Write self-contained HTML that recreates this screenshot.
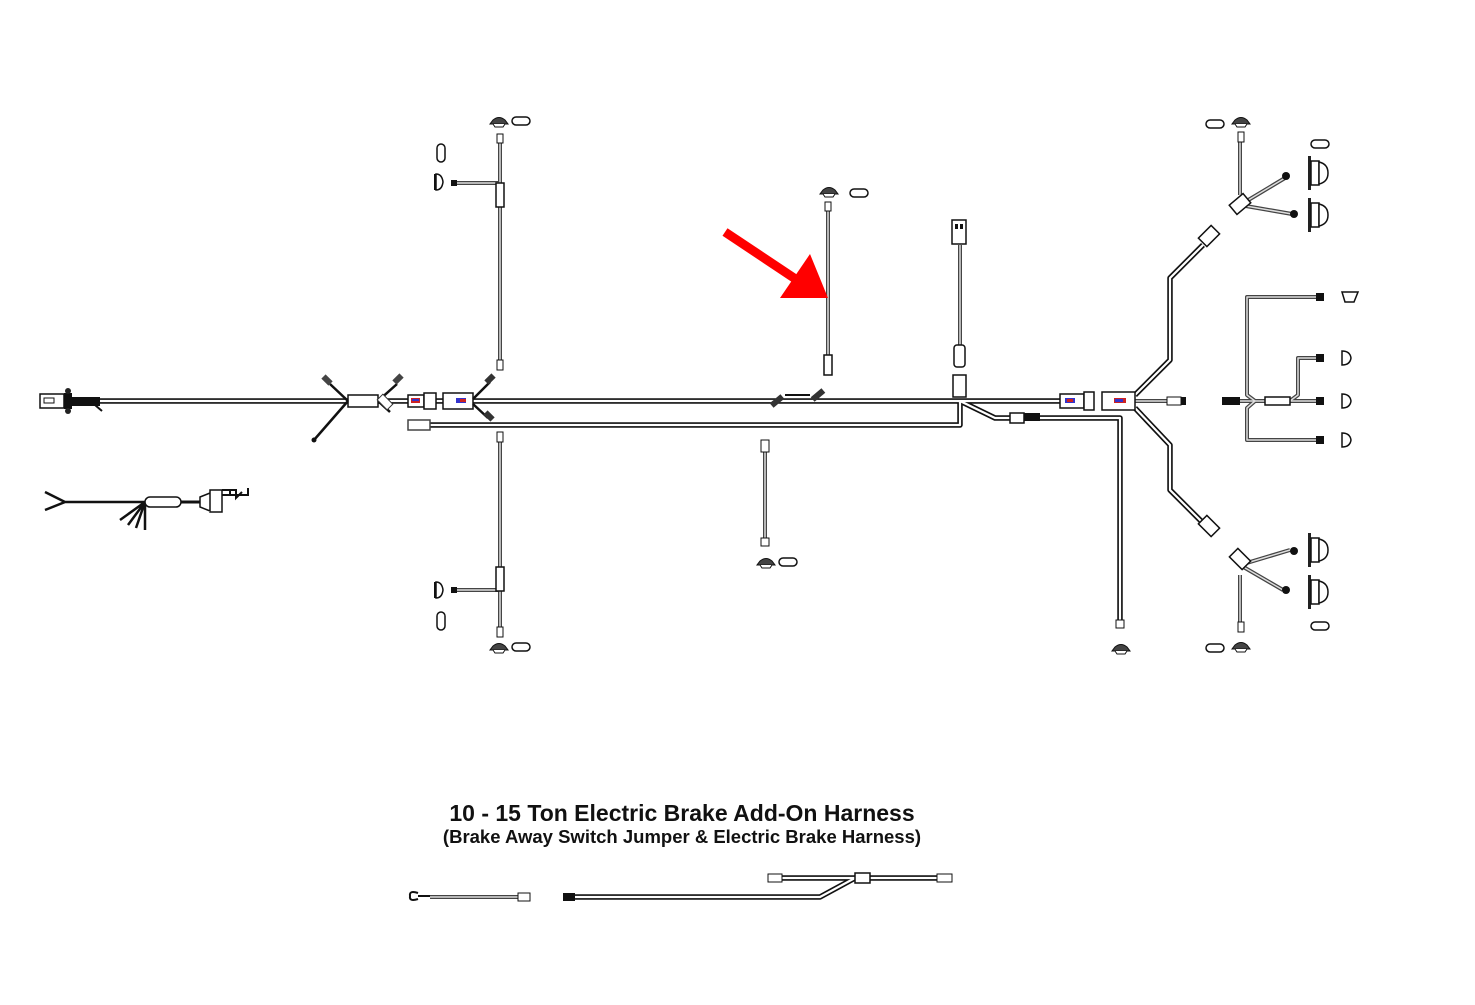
<!DOCTYPE html>
<html><head><meta charset="utf-8"><style>
html,body{margin:0;padding:0;background:#fff;}
svg{display:block;}
text{font-family:"Liberation Sans",sans-serif;font-weight:bold;fill:#111;}
</style></head><body>
<svg width="1475" height="1005" viewBox="0 0 1475 1005" xmlns="http://www.w3.org/2000/svg">
<defs>
<g id="w1" fill="none" stroke-linejoin="round">
 <path d="M95 401 H1060"/>
 <path d="M430 425 H960 V401"/>
 <path d="M960 401 L995 418 H1010"/>
 <path d="M1035 418 H1120 V622"/>
 <path d="M1135 395 L1170 360 V278 L1203 245"/>
 <path d="M1135 408 L1170 445 V490 L1203 523"/>
 <path d="M565 897 H820 L855 878 H950"/>
 <path d="M775 878 H855"/>
</g>
<g id="w2" fill="none" stroke-linejoin="round">
 <path d="M500 140 V365"/><path d="M500 440 V630"/>
 <path d="M455 183 H500"/><path d="M455 590 H500"/>
 <path d="M828 210 V355"/>
 <path d="M960 245 V345"/>
 <path d="M765 450 V540"/>
 <path d="M1135 401 H1170"/>
 <path d="M1240 140 V195"/><path d="M1240 575 V625"/>
 <path d="M1240 205 L1285 178"/><path d="M1240 205 L1292 214"/>
 <path d="M1240 565 L1290 550"/><path d="M1240 565 L1283 590"/>
 <path d="M1240 401 H1265 M1290 401 H1318"/>
 <path d="M1255 401 L1247 395 V297 H1318"/>
 <path d="M1255 401 L1247 408 V440 H1318"/>
 <path d="M1290 401 L1298 395 V358 H1318"/>
 <path d="M430 897 H525"/>
</g>
<g id="lamp"><rect x="0" y="0" width="3" height="34" fill="#222"/><rect x="3" y="5" width="8" height="24" fill="#fff" stroke="#111" stroke-width="1.5"/><path d="M11 6 Q20 8 20 17 Q20 26 11 28 Z" fill="#fff" stroke="#111" stroke-width="1.5"/></g>
<g id="grom"><path d="M0 8 H18 L15 4 Q9 -1 3 4 Z" fill="#444" stroke="#111"/><path d="M3 8 L5 11 H13 L15 8" fill="#fff" stroke="#111"/></g>
<g id="oval"><rect x="0" y="0" width="18" height="8" rx="4" fill="#fff" stroke="#111" stroke-width="1.5"/></g>
</defs>

<use href="#w1" stroke="#111" stroke-width="5.5"/>
<use href="#w1" stroke="#fff" stroke-width="2.2"/>
<use href="#w2" stroke="#444" stroke-width="4"/>
<use href="#w2" stroke="#ddd" stroke-width="1.5"/>

<!-- left plug -->
<rect x="40" y="394" width="24" height="14" fill="#fff" stroke="#111" stroke-width="1.5"/>
<rect x="44" y="398" width="10" height="5" fill="#fff" stroke="#111"/>
<rect x="64" y="393" width="8" height="16" fill="#111"/>
<circle cx="68" cy="391" r="3" fill="#222"/><circle cx="68" cy="411" r="3" fill="#222"/>
<rect x="72" y="397" width="28" height="9" fill="#111"/>
<path d="M95 405 L102 411" stroke="#111" stroke-width="2"/>
<!-- junction box left -->
<rect x="348" y="395" width="30" height="12" fill="#fff" stroke="#111" stroke-width="1.5"/>
<path d="M348 401 L330 384 M348 401 L314 440 M378 401 L397 384 M378 401 L390 412" stroke="#111" stroke-width="2.5"/>
<rect x="322" y="377" width="10" height="6" fill="#444" transform="rotate(45 327 380)"/>
<rect x="393" y="376" width="10" height="6" fill="#444" transform="rotate(-45 398 379)"/>
<rect x="378" y="398" width="14" height="8" fill="#fff" stroke="#333" transform="rotate(45 385 402)"/>
<circle cx="314" cy="440" r="2.5" fill="#111"/>
<!-- connectors mid-left -->
<rect x="408" y="395" width="16" height="12" fill="#fff" stroke="#111" stroke-width="1.5"/>
<rect x="411" y="398" width="9" height="5" fill="#c22"/><rect x="412" y="399" width="7" height="2" fill="#33c"/>
<rect x="424" y="393" width="12" height="16" fill="#fff" stroke="#111" stroke-width="1.5"/>
<rect x="443" y="393" width="30" height="16" fill="#fff" stroke="#111" stroke-width="1.5"/>
<rect x="456" y="398" width="10" height="5" fill="#33c"/><rect x="460" y="399" width="6" height="3" fill="#c22"/>
<path d="M473 399 L490 382 M473 404 L488 418" stroke="#111" stroke-width="2.5"/>
<rect x="485" y="376" width="10" height="6" fill="#333" transform="rotate(-45 490 379)"/>
<rect x="484" y="413" width="10" height="6" fill="#333" transform="rotate(45 489 416)"/>
<rect x="408" y="420" width="22" height="10" fill="#fff" stroke="#444" stroke-width="1.5"/>
<!-- left vertical -->
<use href="#grom" x="490" y="116"/><use href="#oval" x="512" y="117"/>
<rect x="497" y="134" width="6" height="9" fill="#fff" stroke="#111"/>
<rect x="496" y="183" width="8" height="24" fill="#fff" stroke="#111" stroke-width="1.5"/>
<rect x="437" y="144" width="8" height="18" rx="4" fill="#fff" stroke="#111" stroke-width="1.5"/>
<path d="M436 174 V190 Q442 190 443 182 Q442 174 436 174Z" fill="#fff" stroke="#111" stroke-width="1.5"/><rect x="434" y="174" width="2" height="16" fill="#111"/>
<rect x="451" y="180" width="6" height="6" fill="#111"/>
<rect x="497" y="360" width="6" height="10" fill="#fff" stroke="#111"/>
<rect x="497" y="432" width="6" height="10" fill="#fff" stroke="#111"/>
<rect x="496" y="567" width="8" height="24" fill="#fff" stroke="#111" stroke-width="1.5"/>
<path d="M436 582 V598 Q442 598 443 590 Q442 582 436 582Z" fill="#fff" stroke="#111" stroke-width="1.5"/><rect x="434" y="582" width="2" height="16" fill="#111"/>
<rect x="451" y="587" width="6" height="6" fill="#111"/>
<rect x="437" y="612" width="8" height="18" rx="4" fill="#fff" stroke="#111" stroke-width="1.5"/>
<rect x="497" y="627" width="6" height="10" fill="#fff" stroke="#111"/>
<use href="#grom" x="490" y="642"/><use href="#oval" x="512" y="643"/>
<!-- middle -->
<use href="#grom" x="820" y="186"/><use href="#oval" x="850" y="189"/>
<rect x="825" y="202" width="6" height="9" fill="#fff" stroke="#111"/>
<rect x="824" y="355" width="8" height="20" fill="#fff" stroke="#111" stroke-width="1.5"/>
<rect x="770" y="398" width="14" height="6" fill="#333" transform="rotate(-40 777 401)"/>
<rect x="811" y="392" width="14" height="6" fill="#333" transform="rotate(-40 818 395)"/>
<path d="M785 395 L810 395" stroke="#111" stroke-width="2"/>
<rect x="761" y="440" width="8" height="12" fill="#fff" stroke="#111"/>
<rect x="761" y="538" width="8" height="8" fill="#fff" stroke="#111"/>
<use href="#grom" x="757" y="557"/><use href="#oval" x="779" y="558"/>
<!-- vertical 960 -->
<rect x="952" y="220" width="14" height="24" fill="#fff" stroke="#111" stroke-width="1.5"/>
<rect x="955" y="224" width="3" height="5" fill="#111"/><rect x="960" y="224" width="3" height="5" fill="#111"/>
<rect x="954" y="345" width="11" height="22" rx="3" fill="#fff" stroke="#111" stroke-width="1.5"/>
<rect x="953" y="375" width="13" height="22" fill="#fff" stroke="#111" stroke-width="1.5"/>
<rect x="1010" y="413" width="14" height="10" fill="#fff" stroke="#111" stroke-width="1.5"/>
<rect x="1024" y="413" width="16" height="8" fill="#111"/>
<rect x="1060" y="394" width="24" height="14" fill="#fff" stroke="#111" stroke-width="1.5"/>
<rect x="1065" y="398" width="10" height="5" fill="#33c"/><rect x="1067" y="399" width="6" height="3" fill="#c22"/>
<rect x="1084" y="392" width="10" height="18" fill="#fff" stroke="#111" stroke-width="1.5"/>
<rect x="1102" y="392" width="33" height="18" fill="#fff" stroke="#111" stroke-width="1.5"/>
<rect x="1114" y="398" width="12" height="5" fill="#c22"/><rect x="1115" y="399" width="8" height="3" fill="#33c"/>
<rect x="1167" y="397" width="14" height="8" fill="#fff" stroke="#111"/><rect x="1181" y="397" width="5" height="8" fill="#111"/>
<rect x="1116" y="620" width="8" height="8" fill="#fff" stroke="#111"/>
<use href="#grom" x="1112" y="643"/>
<!-- right top -->
<use href="#oval" x="1206" y="120"/><use href="#grom" x="1232" y="116"/>
<rect x="1238" y="132" width="6" height="10" fill="#fff" stroke="#111"/>
<rect x="1231" y="198" width="18" height="12" fill="#fff" stroke="#111" stroke-width="1.5" transform="rotate(-40 1240 204)"/>
<circle cx="1286" cy="176" r="4" fill="#111"/><circle cx="1294" cy="214" r="4" fill="#111"/>
<rect x="1200" y="230" width="18" height="12" fill="#fff" stroke="#111" stroke-width="1.5" transform="rotate(-45 1209 236)"/>
<use href="#oval" x="1311" y="140"/>
<use href="#lamp" x="1308" y="156"/><use href="#lamp" x="1308" y="198"/>
<!-- right mid -->
<rect x="1222" y="397" width="18" height="8" fill="#111"/>
<rect x="1265" y="397" width="25" height="8" fill="#fff" stroke="#111" stroke-width="1.5"/>
<rect x="1316" y="293" width="8" height="8" fill="#111"/><rect x="1316" y="354" width="8" height="8" fill="#111"/>
<rect x="1316" y="397" width="8" height="8" fill="#111"/><rect x="1316" y="436" width="8" height="8" fill="#111"/>
<path d="M1342 292 H1358 L1354 302 H1345 Z" fill="#fff" stroke="#111" stroke-width="1.5"/>
<path d="M1342 351 V365 Q1350 365 1351 358 Q1350 351 1342 351Z" fill="#fff" stroke="#111" stroke-width="1.5"/>
<path d="M1342 394 V408 Q1350 408 1351 401 Q1350 394 1342 394Z" fill="#fff" stroke="#111" stroke-width="1.5"/>
<path d="M1342 433 V447 Q1350 447 1351 440 Q1350 433 1342 433Z" fill="#fff" stroke="#111" stroke-width="1.5"/>
<!-- right bottom -->
<rect x="1200" y="520" width="18" height="12" fill="#fff" stroke="#111" stroke-width="1.5" transform="rotate(45 1209 526)"/>
<rect x="1231" y="553" width="18" height="12" fill="#fff" stroke="#111" stroke-width="1.5" transform="rotate(45 1240 559)"/>
<circle cx="1294" cy="551" r="4" fill="#111"/><circle cx="1286" cy="590" r="4" fill="#111"/>
<rect x="1238" y="622" width="6" height="10" fill="#fff" stroke="#111"/>
<use href="#lamp" x="1308" y="533"/><use href="#lamp" x="1308" y="575"/>
<use href="#oval" x="1311" y="622"/>
<use href="#oval" x="1206" y="644"/><use href="#grom" x="1232" y="641"/>
<!-- lower left loose harness -->
<path d="M45 492 L65 502 L45 510 M65 502 L145 502 M145 502 L120 520 M145 502 L128 525 M145 502 L136 528 M145 502 L145 530" stroke="#111" stroke-width="2.5" fill="none"/>
<rect x="145" y="497" width="36" height="10" rx="5" fill="#fff" stroke="#111" stroke-width="1.5"/>
<path d="M181 502 H200" stroke="#111" stroke-width="3"/>
<path d="M200 497 L210 493 V511 L200 507Z M210 490 H222 V512 H210Z" fill="#fff" stroke="#111" stroke-width="1.5"/>
<path d="M222 490 H236 V498 L242 492 M230 490 V495 M222 495 H248 V488" stroke="#111" stroke-width="2" fill="none"/>
<!-- arrow -->
<path d="M725 232 L800 282" stroke="#f00" stroke-width="9"/>
<path d="M828 298 L780 298 L810 254 Z" fill="#f00"/>
<!-- text -->
<text x="682" y="821" font-size="23" text-anchor="middle">10 - 15 Ton Electric Brake Add-On Harness</text>
<text x="682" y="843" font-size="18.5" text-anchor="middle">(Brake Away Switch Jumper &amp; Electric Brake Harness)</text>
<!-- bottom parts -->
<path d="M418 893 Q409 890 410 896 Q409 902 418 899 M418 896 H430" stroke="#111" stroke-width="2" fill="none"/>
<rect x="518" y="893" width="12" height="8" fill="#fff" stroke="#111"/>
<rect x="563" y="893" width="12" height="8" fill="#111"/>
<rect x="768" y="874" width="14" height="8" fill="#fff" stroke="#111"/>
<rect x="855" y="873" width="15" height="10" fill="#fff" stroke="#111" stroke-width="1.5"/>
<rect x="937" y="874" width="15" height="8" fill="#fff" stroke="#111"/>
</svg>
</body></html>
